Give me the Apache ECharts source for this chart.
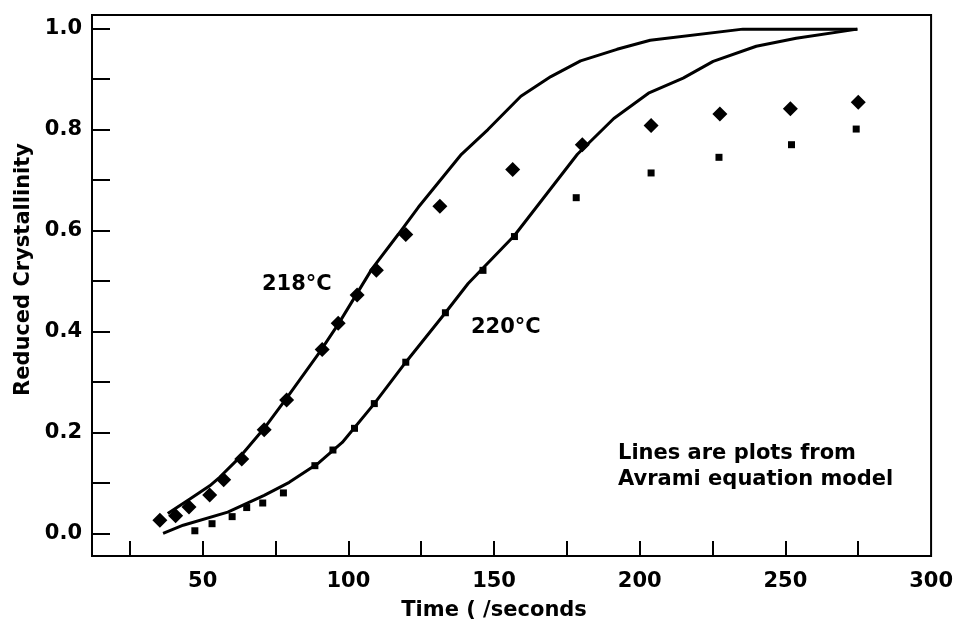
<!DOCTYPE html>
<html>
<head>
<meta charset="utf-8">
<script src="https://cdn.jsdelivr.net/npm/echarts@6/dist/echarts.min.js"></script>
<style>
html,body{margin:0;padding:0;background:#fff;}
#chart{width:956px;height:626px;}
</style>
</head>
<body>
<div id="chart"></div>
<script>
// Measured data, 218 °C (diamonds)
const time218 = [35.3, 40.7, 45.3, 52.4, 57.2, 63.4, 71.1, 78.8, 91.0, 96.5, 103.0, 109.6, 119.7, 131.4, 156.4, 180.3, 203.9, 227.5, 251.7, 275.0];
const cryst218 = [0.026, 0.035, 0.052, 0.076, 0.106, 0.147, 0.205, 0.264, 0.364, 0.416, 0.472, 0.521, 0.592, 0.648, 0.721, 0.770, 0.808, 0.831, 0.841, 0.854];
// Measured data, 220 °C (squares)
const time220 = [47.3, 53.2, 60.1, 65.1, 70.6, 77.7, 88.5, 94.7, 102.1, 108.9, 119.7, 133.3, 146.2, 157.0, 178.2, 203.9, 227.2, 252.1, 274.3];
const cryst220 = [0.005, 0.019, 0.033, 0.051, 0.060, 0.080, 0.134, 0.165, 0.208, 0.257, 0.339, 0.437, 0.521, 0.588, 0.665, 0.714, 0.745, 0.770, 0.801];
// Avrami model lines
const model218Time = [38, 45.6, 52.4, 55.8, 62.6, 71.1, 78.8, 89.9, 96.7, 102.4, 108.1, 117.2, 124.0, 138.8, 147.9, 159.2, 169.5, 179.7, 192.2, 203.6, 235.4, 274.7];
const model218Val = [0.039, 0.068, 0.094, 0.111, 0.150, 0.208, 0.268, 0.357, 0.416, 0.470, 0.524, 0.593, 0.646, 0.751, 0.800, 0.866, 0.905, 0.936, 0.959, 0.977, 0.999, 0.999];
const model220Time = [36.4, 43.3, 58.6, 71.1, 79.7, 89.9, 97.9, 108.9, 119.7, 133.3, 141.1, 157.0, 178.6, 191.1, 203.0, 214.9, 225.2, 240.0, 253.7, 274.7];
const model220Val = [0.0, 0.016, 0.042, 0.075, 0.101, 0.140, 0.180, 0.257, 0.339, 0.437, 0.495, 0.590, 0.751, 0.822, 0.872, 0.902, 0.935, 0.965, 0.981, 0.999];
// Axis ticks and labels
const xTicks = [25, 50, 75, 100, 125, 150, 175, 200, 225, 250, 275];
const xLabels = [50, 100, 150, 200, 250, 300];
const yTicks = [0, 0.1, 0.2, 0.3, 0.4, 0.5, 0.6, 0.7, 0.8, 0.9, 1.0];
const yLabels = [0, 0.2, 0.4, 0.6, 0.8, 1.0];

const zip = (a, b) => a.map((v, i) => [v, b[i]]);
const FONT = 'DejaVu Sans';
const FS = 21;

const chart = echarts.init(document.getElementById('chart'), null, {renderer: 'canvas'});
chart.setOption({
  backgroundColor: '#fff',
  animation: false,
  grid: {left: 92, right: 19, top: 15, bottom: 65, show: true, borderColor: '#000', borderWidth: 2, containLabel: false},
  xAxis: {
    type: 'value', min: 12, max: 300,
    name: 'Time ( /seconds', nameLocation: 'middle', nameGap: 44,
    nameTextStyle: {fontFamily: FONT, fontWeight: 'bold', fontSize: FS, color: '#000', padding: [0, 35, 0, 0]},
    axisLine: {show: true, onZero: false, lineStyle: {color: '#000', width: 2}},
    axisTick: {show: true, inside: true, length: 15, customValues: xTicks, lineStyle: {color: '#000', width: 2}},
    axisLabel: {customValues: xLabels, fontFamily: FONT, fontWeight: 'bold', fontSize: FS, color: '#000', margin: 15},
    splitLine: {show: false}
  },
  yAxis: {
    type: 'value', min: -0.045, max: 1.027,
    name: 'Reduced Crystallinity', nameLocation: 'middle', nameGap: 57, nameRotate: 90,
    nameTextStyle: {fontFamily: FONT, fontWeight: 'bold', fontSize: FS, color: '#000', padding: [0, 0, 0, 32]},
    axisLine: {show: true, onZero: false, lineStyle: {color: '#000', width: 2}},
    axisTick: {show: true, inside: true, length: 18, customValues: yTicks, lineStyle: {color: '#000', width: 2}},
    axisLabel: {customValues: yLabels, formatter: v => v.toFixed(1), fontFamily: FONT, fontWeight: 'bold', fontSize: FS, color: '#000', margin: 10},
    splitLine: {show: false}
  },
  series: [
    {name: '218°C model', type: 'line', data: zip(model218Time, model218Val), showSymbol: false, smooth: false,
     lineStyle: {color: '#000', width: 3}, z: 2},
    {name: '220°C model', type: 'line', data: zip(model220Time, model220Val), showSymbol: false, smooth: false,
     lineStyle: {color: '#000', width: 3}, z: 2},
    {name: '218°C', type: 'scatter', data: zip(time218, cryst218), symbol: 'diamond', symbolSize: 15,
     itemStyle: {color: '#000', opacity: 1}, z: 3},
    {name: '220°C', type: 'scatter', data: zip(time220, cryst220), symbol: 'rect', symbolSize: 7,
     itemStyle: {color: '#000', opacity: 1}, z: 3}
  ],
  graphic: [
    {type: 'text', left: 262, top: 274, style: {text: '218°C', font: 'bold 21px "DejaVu Sans"', fill: '#000'}},
    {type: 'text', left: 471, top: 317, style: {text: '220°C', font: 'bold 21px "DejaVu Sans"', fill: '#000'}},
    {type: 'text', left: 618, top: 441, style: {text: 'Lines are plots from\nAvrami equation model', font: 'bold 21px "DejaVu Sans"', fill: '#000', lineHeight: 26}}
  ]
});
</script>
</body>
</html>
